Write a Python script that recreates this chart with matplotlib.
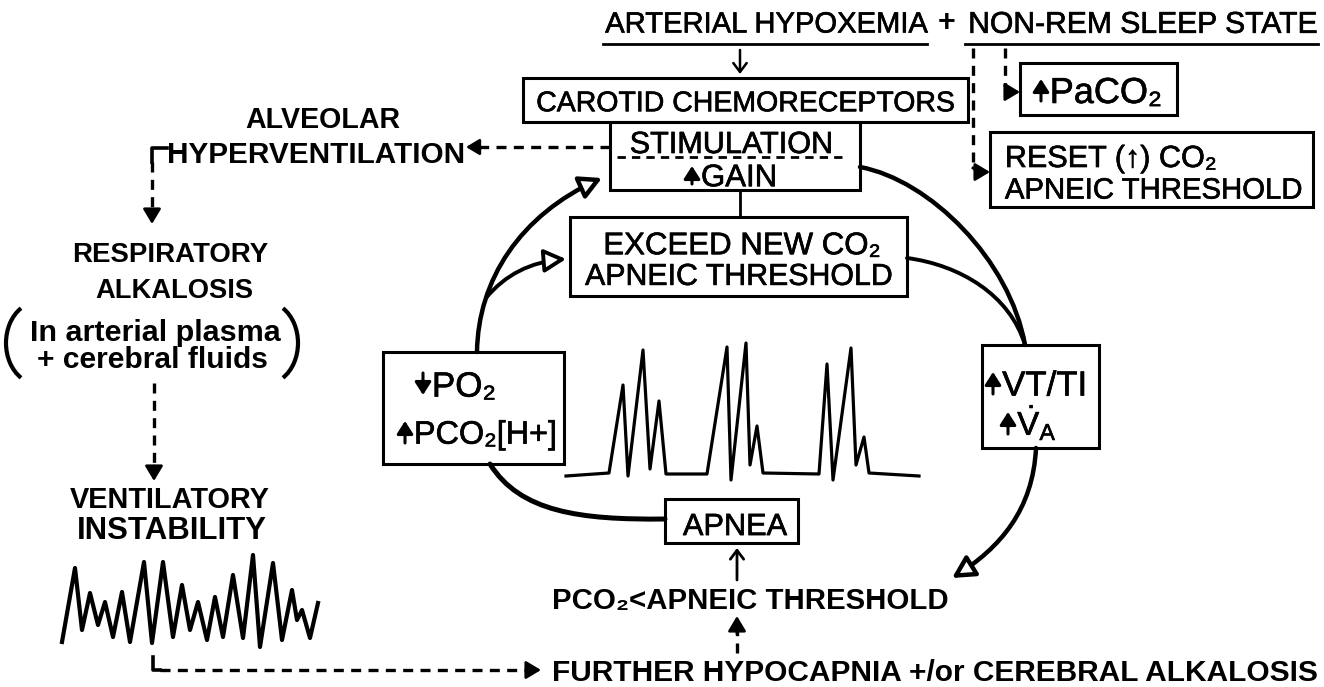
import numpy as np
import matplotlib
matplotlib.use("Agg")
from matplotlib import pyplot as plt
from matplotlib.path import Path
from matplotlib.patches import FancyArrowPatch, Rectangle, Arc
import matplotlib.patheffects as pe

# traces (time step, height above baseline, in pixels)
left_trace_t = [0, 13, 20, 28, 36, 43, 51, 60, 68, 82, 90, 101, 111, 120, 128,
                136, 145, 153, 161, 171, 181, 191, 198, 211, 220, 230, 235, 240, 248, 256]
left_trace_amp = [0, 74, 12, 49, 17, 40, 5, 50, 0, 80, -1, 80, 5, 57, 12,
                  40, 2, 45, 5, 67, 4, 87, -5, 79, 2, 52, 22, 32, 4, 39]

mid_trace_t = [0, 43, 57, 62, 77, 84, 93, 100, 141, 161, 165, 180, 184, 191, 197,
               253, 261, 267, 285, 290, 298, 303, 353]
mid_trace_amp = [0, 3, 91, 0, 126, 7, 75, 2, 2, 129, -4, 133, 11, 50, 3,
                 2, 112, -4, 128, 11, 39, 3, 0]

plt.rcParams['font.family'] = ['Liberation Sans', 'DejaVu Sans']
plt.rcParams['mathtext.fontset'] = 'custom'
plt.rcParams['mathtext.rm'] = 'Liberation Sans'
plt.rcParams['mathtext.it'] = 'Liberation Sans'
plt.rcParams['mathtext.default'] = 'regular'

W, H = 1324, 687
fig = plt.figure(figsize=(W / 100, H / 100), dpi=100)
ax = fig.add_axes([0, 0, 1, 1])
ax.set_xlim(0, W)
ax.set_ylim(H, 0)
ax.axis('off')
renderer = fig.canvas.get_renderer()

BOX_LW = 2.2
ARC_LW = 3.2
DASH = (0, (3.0, 2.2))
INK = [pe.withStroke(linewidth=0.45, foreground='k')]


def label(x0, x1, yc, s, bold=False):
    t = ax.text((x0 + x1) / 2, yc, s, ha='center', va='baseline', fontsize=20,
                fontweight='bold' if bold else 'normal', color='k')
    if not bold:
        t.set_path_effects(INK)
    w = t.get_window_extent(renderer).width
    fs = 20 * (x1 - x0) / w
    t.set_fontsize(fs)
    t.set_y(yc + 0.36 * fs * 100 / 72)
    return t


def head(tip, frm, fc='k', style='-|>,head_length=0.5,head_width=0.3', ms=18, lw=2):
    ax.annotate('', xy=tip, xytext=frm,
                arrowprops=dict(arrowstyle=style, mutation_scale=ms, lw=lw,
                                ec='k', fc=fc, shrinkA=0, shrinkB=0))


def alabel(x0, x1, yc, up, s, half=10):
    # small filled arrow glyph in front of the fitted text
    xa = x0 + 5
    if up:
        head((xa, yc - half), (xa, yc + half), style='-|>,head_length=0.55,head_width=0.35', ms=14, lw=2.2)
    else:
        head((xa, yc + half), (xa, yc - half), style='-|>,head_length=0.55,head_width=0.35', ms=14, lw=2.2)
    return label(x0 + 14, x1, yc, s)


def box(x0, y0, x1, y1):
    ax.add_patch(Rectangle((x0, y0), x1 - x0, y1 - y0, fill=False, ec='k', lw=BOX_LW))


def curve(pts, lw=ARC_LW, head=None):
    codes = [Path.MOVETO] + [Path.CURVE4] * (len(pts) - 1)
    p = Path(pts, codes)
    if head is None:
        ax.add_patch(FancyArrowPatch(path=p, arrowstyle='-', lw=lw, color='k'))
    else:
        ax.add_patch(FancyArrowPatch(path=p, arrowstyle='-|>,head_length=0.6,head_width=0.32',
                                     mutation_scale=22, lw=lw, ec='k', fc=head))


def dashed(xs, ys, lw=2.4):
    ax.plot(xs, ys, color='k', lw=lw, ls=DASH, solid_capstyle='butt')


# ---- top line
label(605, 927, 22, 'ARTERIAL HYPOXEMIA')
ax.text(947, 22 + 9, '+', ha='center', va='baseline', fontsize=22, fontweight='bold')
label(969, 1318, 22, 'NON-REM SLEEP STATE')
ax.plot([603, 927], [44, 44], color='k', lw=2)
ax.plot([965, 1318], [44, 44], color='k', lw=2)
head((740, 74), (740, 50), fc='none', style='->,head_length=0.4,head_width=0.3', ms=16, lw=1.8)

# ---- chemoreceptor boxes
box(523, 78, 968, 122)
label(537, 955, 101, 'CAROTID CHEMORECEPTORS')
box(610, 122, 860, 190)
label(630, 833, 142, 'STIMULATION')
dashed([617, 848], [157, 157], lw=2)
alabel(687, 777, 175, True, 'GAIN', half=9)

box(1020, 63, 1177, 115)
alabel(1036, 1162, 90, True, 'PaCO₂', half=11)
box(990, 132, 1313, 207)
label(1005, 1217, 156, 'RESET (↑) CO₂')
label(1005, 1302, 188, 'APNEIC THRESHOLD')

# dashed feeds from sleep state
dashed([973, 973], [48, 168])
ax.plot([973, 978], [168, 172], color='k', lw=2)
head((990, 172), (976, 172))
dashed([1005, 1005], [48, 86])
ax.plot([1005, 1008], [86, 92], color='k', lw=2)
head((1020, 92), (1007, 92))

box(570, 217, 907, 296)
label(603, 880, 243, 'EXCEED NEW CO₂')
label(585, 892, 274, 'APNEIC THRESHOLD')
ax.plot([740, 740], [190, 217], color='k', lw=2)

box(383, 352, 564, 464)
alabel(418, 496, 384, False, 'PO₂', half=11)
alabel(400, 557, 432, True, 'PCO₂[H+]', half=11)

box(982, 345, 1099, 448)
alabel(988, 1087, 383, True, 'VT/TI', half=11)
alabel(1003, 1057, 423, True, r'$\dot{\mathrm{V}}_{\mathrm{A}}$', half=11)

box(665, 499, 798, 543)
label(683, 787, 524, 'APNEA')

label(552, 948, 598, 'PCO₂<APNEIC THRESHOLD', bold=True)
label(552, 1318, 670, 'FURTHER HYPOCAPNIA +/or CEREBRAL ALKALOSIS', bold=True)
head((737, 548), (737, 580), fc='none', style='->,head_length=0.4,head_width=0.3', ms=16, lw=2)
dashed([737, 737], [653, 630])
head((737, 616), (737, 634))

# ---- feedback loop arcs
curve([(477, 352), (478, 280), (520, 215), (602, 178)], head='white')
curve([(486, 298), (505, 275), (530, 262), (566, 259)], lw=2.8, head='white')
curve([(860, 167), (930, 180), (1010, 260), (1025, 345)])
curve([(907, 258), (960, 265), (1010, 295), (1025, 345)], lw=2.8)
curve([(1036, 448), (1033, 510), (1000, 548), (952, 578)], head='white')
curve([(490, 464), (520, 512), (580, 520), (665, 519)], lw=3.6)

# ---- left chain
label(245, 400, 118, 'ALVEOLAR', bold=True)
label(167, 465, 152, 'HYPERVENTILATION', bold=True)
dashed([610, 478], [147, 147])
head((466, 147), (480, 147), ms=16)
ax.plot([167, 152, 152], [148, 148, 162], color='k', lw=2.6)
dashed([152, 152], [162, 212])
head((152, 224), (152, 210))

label(72, 268, 252, 'RESPIRATORY', bold=True)
label(95, 253, 288, 'ALKALOSIS', bold=True)
label(30, 280, 330, 'In arterial plasma', bold=True)
label(37, 268, 357, '+ cerebral fluids', bold=True)
ax.add_patch(Arc((38, 343), 64, 82, theta1=116, theta2=244, lw=3, color='k'))
ax.add_patch(Arc((266, 343), 64, 82, theta1=-64, theta2=64, lw=3, color='k'))

dashed([154, 154], [383, 468])
head((154, 481), (154, 466))
label(70, 270, 498, 'VENTILATORY', bold=True)
label(77, 267, 528, 'INSTABILITY', bold=True)

ax.plot([153, 153, 160], [657, 670, 670], color='k', lw=2.6)
dashed([160, 528], [670, 670])
head((541, 670), (527, 670))

# ---- traces
lx0, ly0 = 62, 642
ax.plot(lx0 + np.array(left_trace_t), ly0 - np.array(left_trace_amp),
        color='k', lw=3, solid_joinstyle='round')
mx0, my0 = 566, 476
ax.plot(mx0 + np.array(mid_trace_t), my0 - np.array(mid_trace_amp),
        color='k', lw=2.3, solid_joinstyle='round')

fig.savefig('out.png', dpi=100, facecolor='white')
